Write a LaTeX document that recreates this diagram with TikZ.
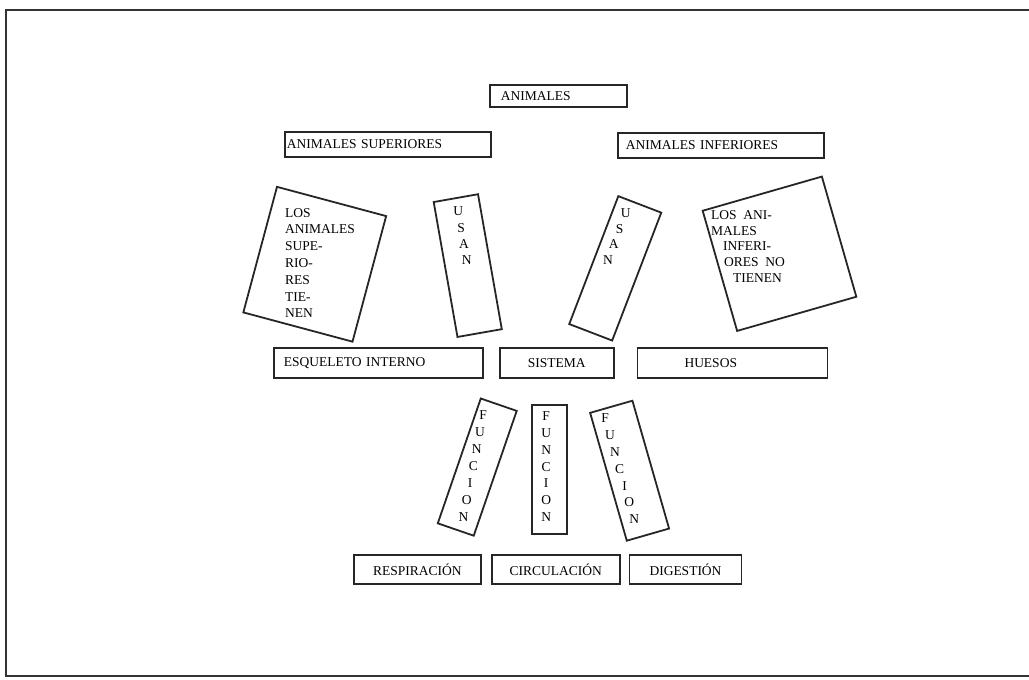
\documentclass[tikz,border=0pt]{standalone}
\usepackage{fontspec}
\setmainfont{Liberation Serif}
\usetikzlibrary{positioning}

\begin{document}
\begin{tikzpicture}[x=1pt,y=-1pt,
	font=\fontsize{13.5}{15}\selectfont,
	caja/.style={draw=black!85, line width=1.8pt, inner ysep=0pt, align=left},
	giro/.style={draw=black!85, line width=1.8pt, inner sep=0pt},
	letra/.style={inner sep=0pt}]
	
	\useasboundingbox (0,0) rectangle (1029,680);
	% Rahmen
	\draw[line width=2.8pt, black!80] (1029,10) -- (6,10) -- (6,676) -- (1029,676);
	
	% obere Reihe
	\node[caja, anchor=north west, minimum height=22pt, inner xsep=11pt, text width=115pt] (anim) at (489,84) {ANIMALES};
	\node[caja, anchor=north west, minimum height=25pt, inner xsep=2pt, text width=202pt] (sup) at (284,131) {ANIMALES SUPERIORES};
	\node[caja, anchor=north west, minimum height=25pt, inner xsep=8pt, text width=190pt] (inf) at (617,132) {ANIMALES INFERIORES};
	
	% schraege Kaesten
	\node[giro, rotate=-15, minimum width=113pt, minimum height=130pt] (supbox) at (314.75,264.25) {};
	\node[anchor=west, align=left, inner sep=0pt, font=\fontsize{13.5}{16.8}\selectfont] (suptxt) at (285,263)
		{LOS\\ANIMALES\\SUPE-\\RIO-\\RES\\TIE-\\NEN};
	
	\node[giro, rotate=16, minimum width=124pt, minimum height=125pt] (infbox) at (779.5,253.75) {};
	\node[anchor=west, align=left, inner sep=0pt, font=\fontsize{13.5}{15.7}\selectfont] (inftxt) at (711,246.5)
		{LOS\ \ ANI-\\MALES\\\hspace*{12pt}INFERI-\\\hspace*{13pt}ORES\ \ NO\\\hspace*{22pt}TIENEN};
	
	\begin{scope}[shift={(467.75,265.6)}, rotate=10]
		\node[giro, rotate=10, minimum width=45pt, minimum height=137pt] (usan1) at (0,0) {};
		\foreach \l [count=\i] in {U,S,A,N}
			\node[letra] (usan1-\i) at (0,{-55+16.5*(\i-1)}) {\l};
	\end{scope}
	
	\begin{scope}[shift={(615.25,268.35)}, rotate=-21]
		\node[giro, rotate=-21, minimum width=46pt, minimum height=137pt] (usan2) at (0,0) {};
		\foreach \l [count=\i] in {U,S,A,N}
			\node[letra] (usan2-\i) at (-10,{-55+16.5*(\i-1)}) {\l};
	\end{scope}
	
	% mittlere Reihe
	\node[caja, anchor=north west, minimum height=30pt, inner xsep=10pt, text width=189pt] (esq) at (273,347) {ESQUELETO INTERNO};
	\node[caja, right=15pt of esq, minimum height=30pt, align=center, inner xsep=4pt, text width=106pt] (sis) {SISTEMA};
	\node[caja, right=22pt of sis, minimum height=30pt, inner xsep=47pt, text width=96pt] (hue) {HUESOS};
	
	% FUNCION
	\begin{scope}[shift={(477.25,467.1)}, rotate=-11]
		\node[giro, rotate=-19, minimum width=38pt, minimum height=132pt] (fun1) at (0,0) {};
		\foreach \l [count=\i] in {F,U,N,C,I,O,N}
			\node[letra] (fun1-\i) at (-4,{-52+17.2*(\i-1)}) {\l};
	\end{scope}
	
	\begin{scope}[shift={(549.2,469.5)}]
		\node[giro, minimum width=35pt, minimum height=129pt] (fun2) at (0,0) {};
		\foreach \l [count=\i] in {F,U,N,C,I,O,N}
			\node[letra] (fun2-\i) at (-3,{-53+16.7*(\i-1)}) {\l};
	\end{scope}
	
	\begin{scope}[shift={(629.6,470.7)}, rotate=16]
		\node[giro, rotate=16, minimum width=44pt, minimum height=133pt] (fun3) at (0,0) {};
		\foreach \l [count=\i] in {F,U,N,C,I,O,N}
			\node[letra] (fun3-\i) at (-9,{-57+17.5*(\i-1)}) {\l};
	\end{scope}
	
	% untere Reihe
	\node[caja, anchor=north west, minimum height=29pt, align=center, inner xsep=4pt, text width=119pt] (resp) at (353,554) {RESPIRACIÓN};
	\node[caja, right=9pt of resp, minimum height=29pt, align=center, inner xsep=4pt, text width=120pt] (circ) {CIRCULACIÓN};
	\node[caja, right=8pt of circ, minimum height=29pt, align=center, inner xsep=4pt, text width=104pt] (dig) {DIGESTIÓN};
	
\end{tikzpicture}
\end{document}
